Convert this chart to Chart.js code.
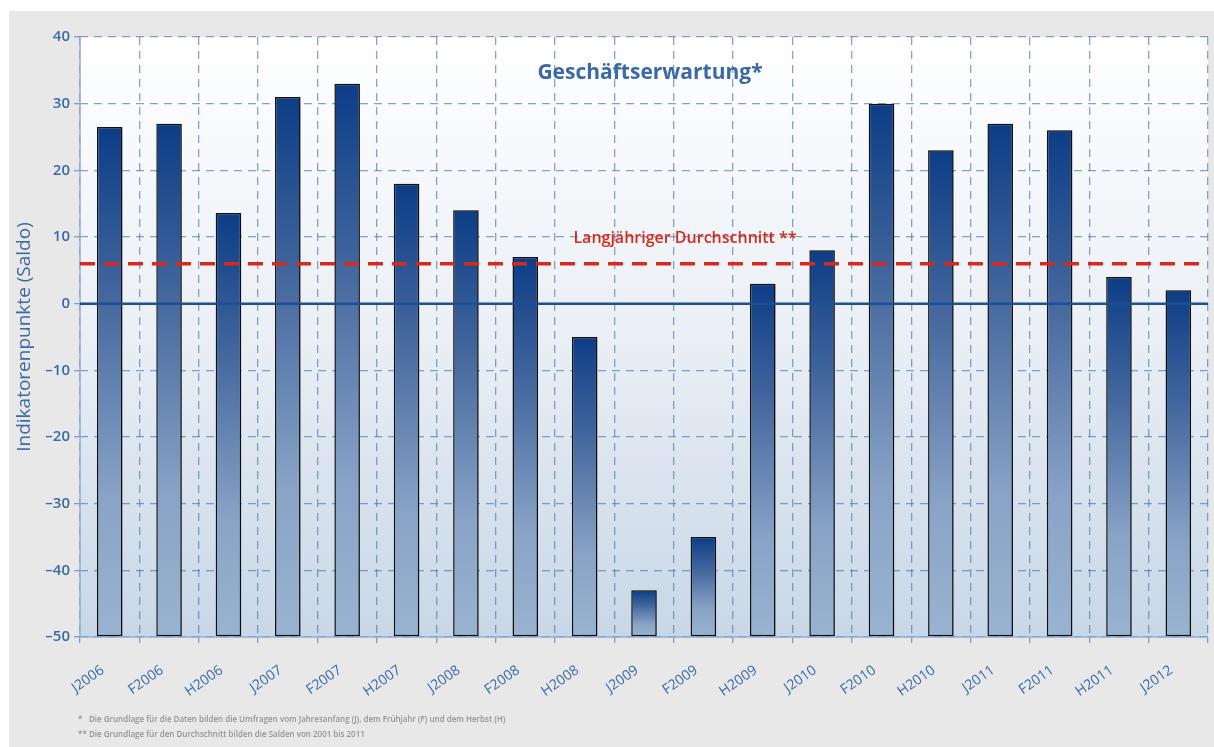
<!DOCTYPE html>
<html lang="de">
<head>
<meta charset="utf-8">
<title>Geschäftserwartung</title>
<script src="https://cdn.jsdelivr.net/npm/chart.js@4/dist/chart.umd.min.js"></script>
<style>
  html, body { margin: 0; padding: 0; background: #ffffff; }
  #wrap { position: relative; width: 1214px; height: 747px; }
</style>
</head>
<body>
<div id="wrap"><canvas id="chart" width="1214" height="747"></canvas></div>
<script>
// ============================================================================
// Data
// ============================================================================

const LABELS = [
  "J2006", "F2006", "H2006", "J2007", "F2007", "H2007", "J2008", "F2008", "H2008",
  "J2009", "F2009", "H2009", "J2010", "F2010", "H2010", "J2011", "F2011", "H2011", "J2012"
];
const SALDO = [26.5, 27, 13.6, 31, 33, 18, 14, 7, -5, -43, -35, 3, 8, 30, 23, 27, 26, 4, 2];
const AVERAGE = 6;
const Y_MIN = -50;
const Y_MAX = 40;
const Y_STEP = 10;

const TITLE = "Geschäftserwartung*";
const AVG_LABEL = "Langjähriger Durchschnitt **";
const Y_TITLE = "Indikatorenpunkte (Saldo)";
const FOOTNOTES = [
  ["*", "Die Grundlage für die Daten bilden die Umfragen vom Jahresanfang (J), dem Frühjahr (F) und dem Herbst (H)"],
  ["**", "Die Grundlage für den Durchschnitt bilden die Salden von 2001 bis 2011"]
];

// ============================================================================
// Styling
// ============================================================================

const BLUE_TEXT = "#3b69a5";
const GRID_COLOR = "rgba(70, 115, 170, 0.65)";
const AXIS_COLOR = "#8fb0d3";
const FONT = "'Open Sans', 'DejaVu Sans', sans-serif";

/**
 * Per-bar vertical gradient, dark at the bar top, light at the base
 */
function barGradient(ctx) {
  const chart = ctx.chart;
  const { chartArea, scales } = chart;
  if (!chartArea || ctx.type !== 'data') return '#4a6ca0';
  const top = scales.y.getPixelForValue(ctx.raw);
  const bottom = scales.y.getPixelForValue(Y_MIN);
  if (!isFinite(top) || !isFinite(bottom) || bottom - top < 1) return '#4a6ca0';
  const g = chart.ctx.createLinearGradient(0, top, 0, bottom);
  g.addColorStop(0, '#0c3d86');
  g.addColorStop(0.35, '#46699f');
  g.addColorStop(0.72, '#88a3c6');
  g.addColorStop(1, '#9ab3d1');
  return g;
}

// ============================================================================
// Plugins
// ============================================================================

const backgroundPlugin = {
  id: 'backgroundPlugin',
  beforeDraw(chart) {
    const { ctx, chartArea } = chart;
    ctx.save();
    ctx.fillStyle = '#ffffff';
    ctx.fillRect(0, 0, chart.width, chart.height);
    ctx.fillStyle = '#e8e8e8';
    ctx.fillRect(9, 11, chart.width - 9, chart.height - 11);
    if (chartArea) {
      const g = ctx.createLinearGradient(0, chartArea.top, 0, chartArea.bottom);
      g.addColorStop(0, '#ffffff');
      g.addColorStop(0.5, '#eaeff5');
      g.addColorStop(1, '#c8d7e7');
      ctx.fillStyle = g;
      ctx.fillRect(chartArea.left, chartArea.top, chartArea.right - chartArea.left, chartArea.bottom - chartArea.top);
    }
    ctx.restore();
  },
  // solid axis lines (grid lines themselves are dashed)
  beforeDatasetsDraw(chart) {
    const { ctx, chartArea } = chart;
    ctx.save();
    ctx.strokeStyle = AXIS_COLOR;
    ctx.lineWidth = 1.5;
    ctx.beginPath();
    ctx.moveTo(chartArea.left, chartArea.top);
    ctx.lineTo(chartArea.left, chartArea.bottom);
    ctx.lineTo(chartArea.right, chartArea.bottom);
    ctx.stroke();
    ctx.restore();
  }
};

const shadowPlugin = {
  id: 'shadowPlugin',
  beforeDatasetDraw(chart) {
    const ctx = chart.ctx;
    ctx.save();
    ctx.shadowColor = 'rgba(0, 0, 0, 0.25)';
    ctx.shadowOffsetX = 2;
    ctx.shadowOffsetY = 0;
    ctx.shadowBlur = 2;
  },
  afterDatasetDraw(chart) {
    chart.ctx.restore();
  }
};

const overlayPlugin = {
  id: 'overlayPlugin',
  afterDatasetsDraw(chart) {
    const { ctx, chartArea, scales } = chart;
    const left = chartArea.left, right = chartArea.right;
    const cx = (left + right) / 2;
    ctx.save();

    // Zero line
    const y0 = scales.y.getPixelForValue(0);
    ctx.strokeStyle = '#1f4f91';
    ctx.lineWidth = 2.5;
    ctx.beginPath();
    ctx.moveTo(left, y0);
    ctx.lineTo(right, y0);
    ctx.stroke();

    // Long-term average
    const ya = scales.y.getPixelForValue(AVERAGE);
    ctx.strokeStyle = '#d52a1c';
    ctx.lineWidth = 3.5;
    ctx.setLineDash([15, 9]);
    ctx.beginPath();
    ctx.moveTo(left, ya);
    ctx.lineTo(right, ya);
    ctx.stroke();
    ctx.setLineDash([]);

    // Texts inside the plot
    ctx.textAlign = 'center';
    ctx.textBaseline = 'middle';
    ctx.fillStyle = BLUE_TEXT;
    ctx.font = "bold 21px " + FONT;
    ctx.fillText(TITLE, cx + 6, 73);
    ctx.fillStyle = '#d52a1c';
    ctx.font = "600 16px " + FONT;
    ctx.fillText(AVG_LABEL, cx + 41, 238);

    // Footnotes
    ctx.textAlign = 'left';
    ctx.fillStyle = '#939393';
    ctx.font = "600 8px " + FONT;
    FOOTNOTES.forEach((f, i) => {
      const y = 720 + i * 15;
      ctx.fillText(f[0], 78, y);
      ctx.fillText(f[1], 89, y);
    });
    ctx.restore();
  }
};

// ============================================================================
// Chart
// ============================================================================

const ctx = document.getElementById('chart').getContext('2d');
new Chart(ctx, {
  type: 'bar',
  data: {
    labels: LABELS,
    datasets: [{
      label: 'Geschäftserwartung',
      data: SALDO,
      base: Y_MIN,
      backgroundColor: barGradient,
      borderColor: '#111111',
      borderWidth: 1.5,
      borderSkipped: false,
      barPercentage: 0.86,
      categoryPercentage: 0.5
    }]
  },
  options: {
    responsive: false,
    animation: false,
    layout: { padding: { left: 10, top: 37, right: 6, bottom: 30 } },
    plugins: {
      legend: { display: false },
      tooltip: { enabled: false }
    },
    scales: {
      x: {
        offset: true,
        grid: {
          offset: true,
          color: GRID_COLOR,
          lineWidth: 1.3,
          tickLength: 6,
          tickColor: 'rgba(110, 150, 195, 0.9)'
        },
        border: { display: false, dash: [8, 6] },
        ticks: {
          color: BLUE_TEXT,
          font: { family: FONT, size: 14 },
          minRotation: 35,
          maxRotation: 35,
          padding: 19,
          labelOffset: -7
        },
        afterFit(scale) { scale.height = 80; }
      },
      y: {
        min: Y_MIN,
        max: Y_MAX,
        grid: {
          color: GRID_COLOR,
          lineWidth: 1.3,
          tickLength: 6,
          tickColor: 'rgba(110, 150, 195, 0.9)'
        },
        border: { display: false, dash: [8, 6] },
        ticks: {
          stepSize: Y_STEP,
          color: BLUE_TEXT,
          font: { family: FONT, size: 15, weight: '600' },
          padding: 4,
          callback: (v) => v < 0 ? '\u2013' + Math.abs(v) : String(v)
        },
        title: {
          display: true,
          text: Y_TITLE,
          color: BLUE_TEXT,
          font: { family: FONT, size: 19 },
          padding: { top: 3, bottom: 0 }
        },
        afterFit(scale) { scale.width = 70; }
      }
    }
  },
  plugins: [backgroundPlugin, shadowPlugin, overlayPlugin]
});
</script>
</body>
</html>
